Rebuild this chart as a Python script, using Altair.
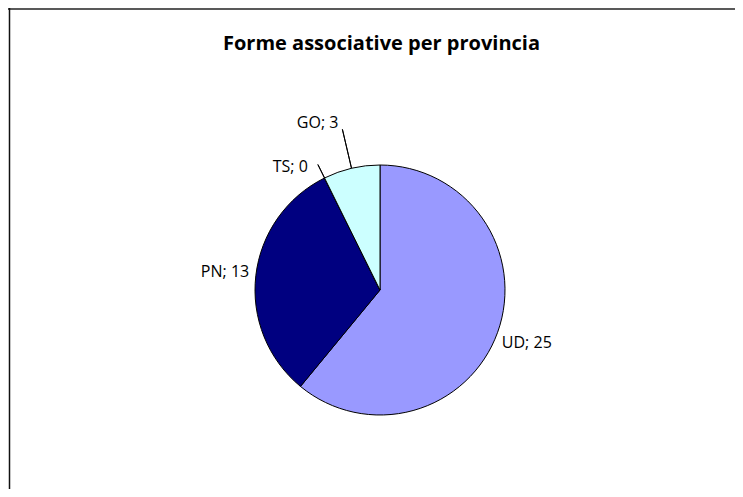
import math
import altair as alt
import pandas as pd

# ---- data ----
categories = ["UD", "PN", "TS", "GO"]
values = [25, 13, 0, 3]
title_text = ["Forme associative per provincia"]

# ---- styles ----
colors = ["#9999FF", "#000080", "#993366", "#CCFFFF"]
FONT = "Open Sans"
W, H = 727, 481
CX, CY = 372, 282
R = 125

total = sum(values)
ends, acc = [], 0
for v in values:
    acc += v
    ends.append(acc)
starts = [e - v for e, v in zip(ends, values)]
mids = [s + v / 2 for s, v in zip(starts, values)]
df = pd.DataFrame({
    "cat": categories,
    "value": values,
    "start": starts,
    "end": ends,
    "mid": mids,
    "label": [f"{c}; {v}" for c, v in zip(categories, values)],
})

theta_scale = alt.Scale(domain=[0, total], range=[0, 2 * math.pi])
base = alt.Chart(df)
center = dict(x=alt.value(CX), y=alt.value(CY))

pie = base.mark_arc(radius=R, stroke="black", strokeWidth=1).encode(
    theta=alt.Theta("start:Q", scale=theta_scale, stack=False),
    theta2="end:Q",
    color=alt.Color("cat:N", scale=alt.Scale(domain=categories, range=colors), legend=None),
    **center,
)

labels_main = base.transform_filter(
    alt.FieldOneOfPredicate(field="cat", oneOf=["UD", "PN"])
).mark_text(radius=156, font=FONT, fontSize=16, align="center", baseline="middle", color="black").encode(
    theta=alt.Theta("mid:Q", scale=theta_scale, stack=False),
    text="label:N",
    **center,
)

def leader(cat, r_out, dx, dy):
    sub = base.transform_filter(alt.datum.cat == cat)
    line = sub.mark_arc(radius=r_out, radius2=R, stroke="black", strokeWidth=1, fillOpacity=0).encode(
        theta=alt.Theta("mid:Q", scale=theta_scale, stack=False),
        theta2="mid:Q",
        **center,
    )
    txt = sub.mark_text(radius=r_out, font=FONT, fontSize=16, align="right", baseline="middle",
                        dx=dx, dy=dy, color="black").encode(
        theta=alt.Theta("mid:Q", scale=theta_scale, stack=False),
        text="label:N",
        **center,
    )
    return line + txt

ts = leader("TS", 140, -10, 2)
go = leader("GO", 165, -4, -6)

title = alt.Chart(pd.DataFrame({"t": title_text})).mark_text(
    font=FONT, fontSize=20, fontWeight="bold", align="center", baseline="alphabetic", color="black"
).encode(text="t:N", x=alt.value(373.5), y=alt.value(42))

frame_df = pd.DataFrame({"k": [0]})
top_line = alt.Chart(frame_df).mark_rule(color="#222222", strokeWidth=1.5).encode(
    x=alt.value(0), x2=alt.value(W), y=alt.value(1)
)
left_line = alt.Chart(frame_df).mark_rule(color="#111111", strokeWidth=1.5).encode(
    x=alt.value(1.5), y=alt.value(0), y2=alt.value(H)
)

chart = alt.layer(top_line, left_line, pie, labels_main, ts, go, title).properties(
    width=W, height=H, autosize=alt.AutoSizeParams(type="none"), padding=0
).configure_view(strokeWidth=0)

chart.save("out.html", embed_options={"renderer": "svg", "actions": False})
